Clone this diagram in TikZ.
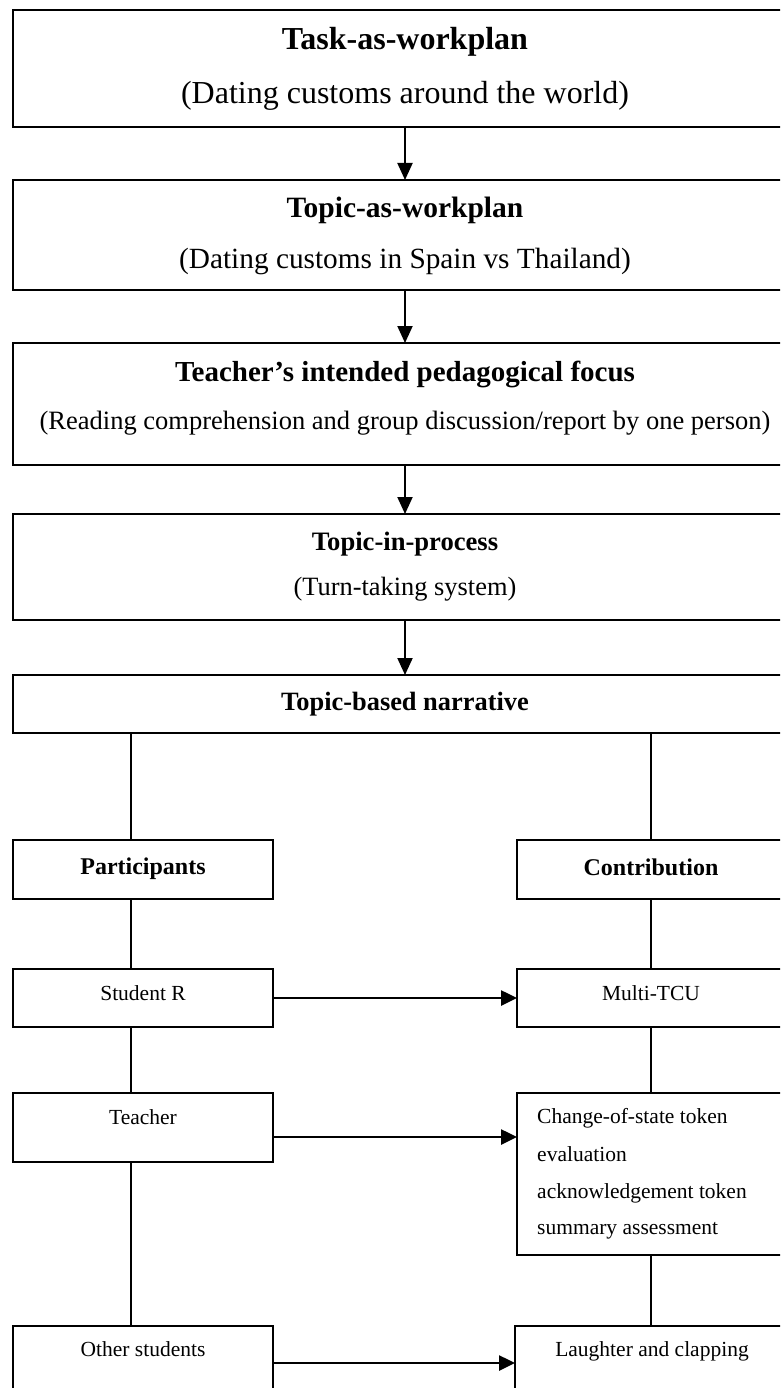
\documentclass[tikz,border=0pt]{standalone}
\usepackage{fontspec}
\setmainfont{Liberation Serif}
\usetikzlibrary{arrows.meta}

\tikzset{
    box/.style={draw, line width=2pt, inner sep=0pt, outer sep=0pt},
    hd/.style={anchor=base, inner sep=0pt, font=\fontsize{#1}{#1}\selectfont\bfseries},
    tx/.style={anchor=base, inner sep=0pt, font=\fontsize{#1}{#1}\selectfont},
    varr/.style={line width=2pt, -{Triangle[length=17pt,width=15pt]}},
    harr/.style={line width=2.6pt, -{Triangle[length=16pt,width=15pt]}},
    conn/.style={line width=1.8pt}
}

\begin{document}
\begin{tikzpicture}[x=1pt, y=-1pt]
        \useasboundingbox (0,0) rectangle (780,1388);
        \clip (0,0) rectangle (780,1388);
        % top chain
        \node[box, minimum width=784pt, minimum height=117pt] at(405, 68.5) (t1) {};
        \node[box, minimum width=784pt, minimum height=110pt] at(405, 235) (t2) {};
        \node[box, minimum width=784pt, minimum height=122pt] at(405, 404) (t3) {};
        \node[box, minimum width=784pt, minimum height=106pt] at(405, 567) (t4) {};
        \node[box, minimum width=784pt, minimum height=58pt] at(405, 704) (t5) {};
        \node[hd=32] at([yshift=-40pt]t1.north) (t1a) {Task-as-workplan};
        \node[tx=32] at([yshift=-94pt]t1.north) (t1b) {(Dating customs around the world)};
        \node[hd=29.5] at([yshift=-38pt]t2.north) (t2a) {Topic-as-workplan};
        \node[tx=29.3] at([yshift=-88pt]t2.north) (t2b) {(Dating customs in Spain vs Thailand)};
        \node[hd=29] at([yshift=-38pt]t3.north) (t3a) {Teacher’s intended pedagogical focus};
        \node[tx=26.5] at([yshift=-86pt]t3.north) (t3b) {(Reading comprehension and group discussion/report by one person)};
        \node[hd=26.6] at([yshift=-36pt]t4.north) (t4a) {Topic-in-process};
        \node[tx=26.4] at([yshift=-81pt]t4.north) (t4b) {(Turn-taking system)};
        \node[hd=26.4] at([yshift=-35pt]t5.north) (t5a) {Topic-based narrative};
        \draw[varr] (t1) -- (t2);
        \draw[varr] (t2) -- (t3);
        \draw[varr] (t3) -- (t4);
        \draw[varr] (t4) -- (t5);
        % two columns
        \node[box, line width=1.8pt, minimum width=260pt, minimum height=59pt] at(143, 869.5) (part) {};
        \node[box, line width=1.8pt, minimum width=268pt, minimum height=59pt] at(651, 869.5) (contr) {};
        \node[box, line width=1.8pt, minimum width=260pt, minimum height=58pt] at(143, 998) (stud) {};
        \node[box, line width=1.8pt, minimum width=268pt, minimum height=58pt] at(651, 998) (mtcu) {};
        \node[box, line width=1.8pt, minimum width=260pt, minimum height=69pt] at(143, 1127.5) (teach) {};
        \node[box, line width=1.8pt, minimum width=268pt, minimum height=162pt] at(651, 1174) (chg) {};
        \node[box, line width=1.8pt, minimum width=260pt, minimum height=74pt] at(143, 1363) (oth) {};
        \node[box, line width=1.8pt, minimum width=274pt, minimum height=74pt] at(652, 1363) (laugh) {};
        \node[hd=24] at([yshift=-34pt]part.north) (parta) {Participants};
        \node[hd=24] at([yshift=-35pt]contr.north) (contra) {Contribution};
        \node[tx=21.5] at([yshift=-31pt]stud.north) (studa) {Student R};
        \node[tx=21.5] at([yshift=-31pt]mtcu.north) (mtcua) {Multi-TCU};
        \node[tx=21.5] at([yshift=-31pt]teach.north) (teacha) {Teacher};
        \node[tx=21.5, anchor=base west] at([xshift=20pt, yshift=-30pt]chg.north west) (chga) {Change-of-state token};
        \node[tx=21.5, anchor=base west] at([xshift=20pt, yshift=-68pt]chg.north west) (chgb) {evaluation};
        \node[tx=21.5, anchor=base west] at([xshift=20pt, yshift=-105pt]chg.north west) (chgc) {acknowledgement token};
        \node[tx=21.5, anchor=base west] at([xshift=20pt, yshift=-141pt]chg.north west) (chgd) {summary assessment};
        \node[tx=21.5] at([yshift=-30pt]oth.north) (otha) {Other students};
        \node[tx=21.5] at([yshift=-30pt]laugh.north) (laugha) {Laughter and clapping};
        \coordinate (lx) at (131, 0);
        \coordinate (rx) at (651, 0);
        \draw[conn] (t5.south -| lx) -- (part.north -| lx);
        \draw[conn] (part.south -| lx) -- (stud.north -| lx);
        \draw[conn] (stud.south -| lx) -- (teach.north -| lx);
        \draw[conn] (teach.south -| lx) -- (oth.north -| lx);
        \draw[conn] (t5.south -| rx) -- (contr.north -| rx);
        \draw[conn] (contr.south -| rx) -- (mtcu.north -| rx);
        \draw[conn] (mtcu.south -| rx) -- (chg.north -| rx);
        \draw[conn] (chg.south -| rx) -- (laugh.north -| rx);
        \coordinate (ta) at ([yshift=-9.5pt]teach.east);
        \draw[harr] (stud) -- (mtcu);
        \draw[harr] (ta) -- (ta -| chg.west);
        \draw[harr] (oth) -- (laugh);
    \end{tikzpicture}
\end{document}
